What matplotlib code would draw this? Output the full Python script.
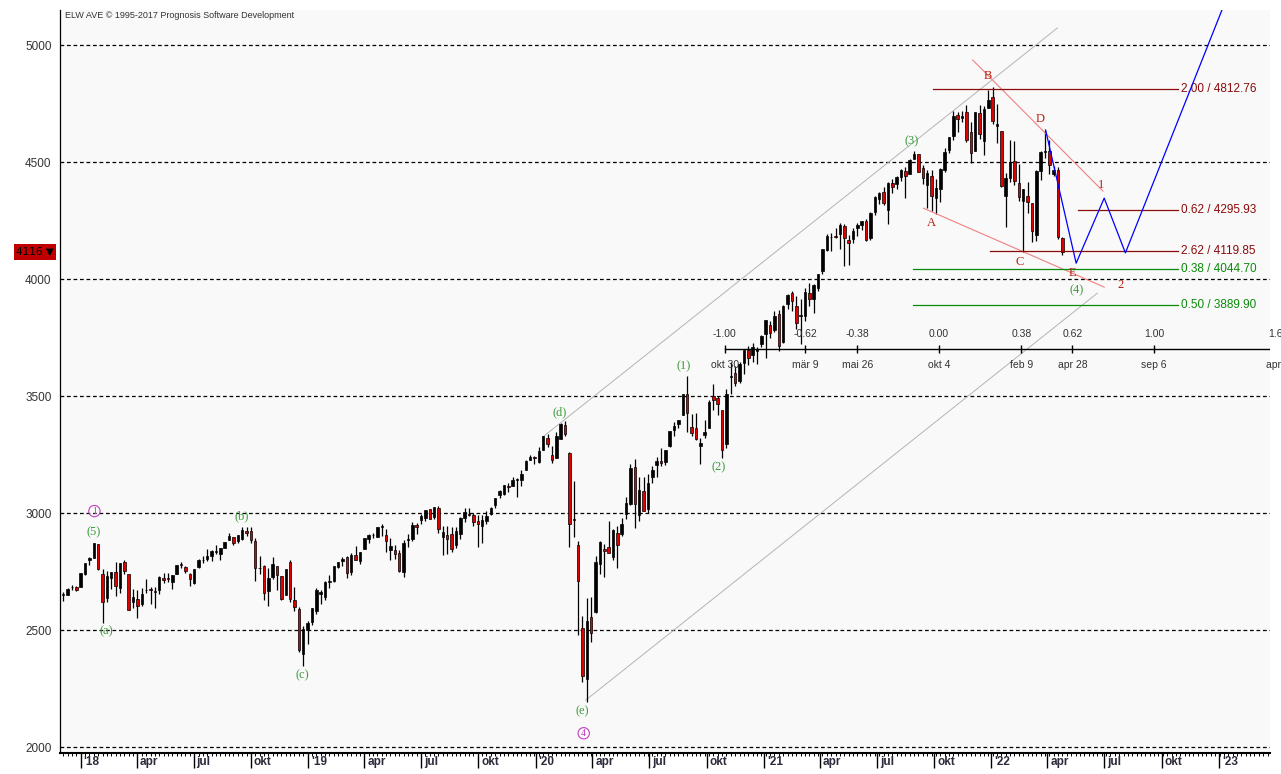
import matplotlib
matplotlib.use("Agg")
import matplotlib.pyplot as plt
import matplotlib.dates as mdates
from matplotlib import transforms
import numpy as np
import pandas as pd

# weekly candles, week of 2017-12-04 .. week of 2022-04-25
opens = [2657, 2652, 2685, 2683,
         2683, 2742, 2799, 2809, 2867, 2741, 2637, 2722, 2750, 2681, 2790, 2741, 2619, 2633, 2611, 2671, 2675, 2668,
         2670, 2722, 2725, 2708, 2741, 2781, 2769, 2742, 2704, 2769, 2798, 2804, 2819, 2840, 2827, 2853, 2885, 2897,
         2880, 2890, 2926, 2926, 2882, 2764, 2773, 2667, 2726, 2773, 2730, 2649, 2790, 2630, 2591, 2400,
         2499, 2535, 2582, 2657, 2644, 2706, 2712, 2769, 2796, 2814, 2747, 2823, 2796, 2849, 2889, 2908, 2899, 2941,
         2909, 2841, 2841, 2830, 2751, 2886, 2889, 2951, 2972, 2980, 3017, 2982, 3024, 2898, 2907, 2913, 2866, 2910,
         2980, 2997, 2993, 2968, 2944, 2965, 2996, 3033, 3079, 3081, 3118, 3118, 3144, 3141, 3184, 3227, 3240,
         3218, 3271, 3321, 3248, 3235, 3318, 3378, 3257, 2975, 2864, 2509, 2290, 2558, 2578, 2782, 2846, 2855, 2815,
         2915, 2913, 2995, 3038, 3199, 2994, 3094, 3018, 3155, 3206, 3224, 3219, 3289, 3356, 3380, 3419, 3509, 3369,
         3363, 3285, 3334, 3366, 3500, 3493, 3441, 3296, 3583, 3601, 3566, 3642, 3699, 3675, 3694, 3723,
         3764, 3803, 3781, 3851, 3731, 3892, 3939, 3885, 3842, 3844, 3942, 3916, 3964, 4034, 4124, 4179, 4185, 4191,
         4228, 4169, 4170, 4217, 4230, 4248, 4174, 4285, 4344, 4372, 4296, 4410, 4407, 4437, 4462, 4450, 4514, 4535,
         4474, 4403, 4442, 4348, 4385, 4464, 4553, 4610, 4701, 4689, 4712, 4629, 4548, 4710, 4588, 4733,
         4779, 4656, 4632, 4356, 4432, 4505, 4412, 4332, 4354, 4327, 4188, 4462, 4541, 4547, 4450, 4466, 4174]
highs = [2665, 2680, 2695, 2687,
         2743, 2787, 2815, 2873, 2870, 2763, 2755, 2748, 2790, 2786, 2802, 2742, 2675, 2672, 2680, 2718, 2683, 2683,
         2732, 2743, 2743, 2736, 2779, 2790, 2775, 2746, 2763, 2804, 2816, 2848, 2841, 2863, 2853, 2877, 2916, 2900,
         2908, 2941, 2940, 2939, 2894, 2817, 2779, 2767, 2815, 2775, 2730, 2760, 2800, 2685, 2601, 2520,
         2539, 2597, 2681, 2672, 2709, 2738, 2775, 2793, 2814, 2816, 2830, 2861, 2836, 2894, 2910, 2916, 2940, 2954,
         2931, 2892, 2864, 2841, 2884, 2910, 2964, 2960, 2996, 3014, 3018, 3028, 3029, 2944, 2944, 2940, 2940, 2985,
         3021, 3022, 3002, 2993, 2993, 3008, 3027, 3066, 3098, 3121, 3127, 3154, 3150, 3183, 3226, 3248, 3246,
         3282, 3329, 3337, 3285, 3347, 3385, 3393, 3260, 3137, 2882, 2562, 2637, 2641, 2819, 2880, 2868, 2965, 2934,
         2945, 2981, 3068, 3211, 3233, 3155, 3155, 3166, 3200, 3238, 3280, 3272, 3352, 3388, 3399, 3509, 3588, 3425,
         3428, 3320, 3397, 3482, 3550, 3502, 3441, 3529, 3646, 3628, 3645, 3699, 3713, 3726, 3711, 3760,
         3827, 3823, 3862, 3870, 3890, 3938, 3950, 3929, 3915, 3960, 3983, 3978, 4021, 4129, 4191, 4195, 4218, 4238,
         4236, 4188, 4219, 4238, 4250, 4258, 4286, 4356, 4372, 4393, 4415, 4429, 4441, 4469, 4480, 4513, 4546, 4536,
         4487, 4466, 4466, 4429, 4475, 4559, 4608, 4718, 4714, 4718, 4744, 4672, 4713, 4743, 4740, 4808,
         4819, 4749, 4632, 4453, 4595, 4590, 4490, 4385, 4416, 4327, 4465, 4546, 4637, 4594, 4483, 4480, 4180]
lows = [2624, 2651, 2673, 2667,
        2683, 2737, 2778, 2808, 2759, 2533, 2622, 2675, 2647, 2659, 2742, 2585, 2593, 2553, 2605, 2660, 2612, 2594,
        2656, 2701, 2707, 2676, 2741, 2764, 2743, 2691, 2698, 2768, 2789, 2795, 2795, 2826, 2802, 2852, 2884, 2864,
        2874, 2886, 2903, 2874, 2710, 2741, 2628, 2603, 2719, 2671, 2631, 2649, 2621, 2583, 2408, 2347,
        2443, 2524, 2571, 2612, 2631, 2681, 2705, 2764, 2775, 2722, 2735, 2800, 2785, 2848, 2873, 2893, 2898, 2901,
        2835, 2800, 2805, 2750, 2729, 2855, 2883, 2913, 2953, 2966, 2975, 2976, 2914, 2822, 2825, 2834, 2853, 2891,
        2964, 2988, 2946, 2856, 2873, 2952, 2991, 3023, 3066, 3078, 3091, 3116, 3070, 3117, 3184, 3226, 3212,
        3214, 3268, 3281, 3214, 3234, 3316, 3328, 2855, 2900, 2478, 2280, 2192, 2448, 2574, 2739, 2727, 2831, 2798,
        2767, 2902, 2974, 3034, 2936, 2966, 3008, 3000, 3127, 3154, 3200, 3205, 3284, 3331, 3364, 3419, 3349, 3330,
        3314, 3209, 3323, 3365, 3441, 3419, 3234, 3280, 3511, 3543, 3555, 3594, 3633, 3648, 3636, 3710,
        3663, 3749, 3775, 3694, 3725, 3874, 3865, 3789, 3723, 3819, 3886, 3854, 3950, 4020, 4118, 4118, 4177, 4128,
        4057, 4061, 4155, 4183, 4209, 4164, 4166, 4275, 4321, 4318, 4234, 4368, 4385, 4420, 4347, 4448, 4513, 4456,
        4406, 4305, 4289, 4279, 4330, 4459, 4538, 4595, 4630, 4672, 4585, 4495, 4548, 4599, 4531, 4733,
        4662, 4582, 4395, 4223, 4415, 4401, 4335, 4115, 4284, 4157, 4162, 4424, 4517, 4450, 4440, 4172, 4105]
closes = [2652, 2676, 2683, 2674,
          2743, 2786, 2810, 2873, 2762, 2620, 2732, 2747, 2691, 2786, 2752, 2588, 2641, 2604, 2656, 2670, 2670, 2663,
          2728, 2713, 2721, 2735, 2779, 2780, 2755, 2718, 2760, 2801, 2802, 2819, 2840, 2833, 2850, 2875, 2902, 2871,
          2905, 2930, 2914, 2886, 2767, 2768, 2659, 2723, 2781, 2736, 2633, 2760, 2633, 2600, 2417, 2507,
          2532, 2596, 2671, 2665, 2707, 2708, 2776, 2793, 2804, 2743, 2822, 2801, 2834, 2893, 2907, 2905, 2940, 2946,
          2881, 2860, 2826, 2752, 2873, 2887, 2950, 2942, 2990, 3014, 2977, 3026, 2932, 2919, 2889, 2847, 2926, 2979,
          3007, 2992, 2962, 2952, 2970, 2986, 3023, 3067, 3093, 3120, 3110, 3141, 3146, 3169, 3221, 3240, 3235,
          3265, 3330, 3295, 3226, 3328, 3380, 3338, 2954, 2972, 2711, 2305, 2541, 2489, 2790, 2875, 2837, 2831, 2930,
          2864, 2955, 3044, 3194, 3041, 3098, 3009, 3130, 3185, 3225, 3216, 3271, 3351, 3373, 3397, 3508, 3427, 3341,
          3319, 3298, 3348, 3477, 3484, 3465, 3270, 3510, 3585, 3558, 3638, 3699, 3663, 3709, 3703, 3756,
          3825, 3768, 3841, 3714, 3887, 3934, 3907, 3811, 3842, 3943, 3913, 3975, 4020, 4129, 4185, 4180, 4181, 4233,
          4174, 4156, 4204, 4230, 4247, 4166, 4281, 4352, 4370, 4327, 4412, 4395, 4437, 4468, 4442, 4509, 4535, 4459,
          4433, 4455, 4357, 4391, 4471, 4545, 4605, 4697, 4683, 4698, 4595, 4538, 4712, 4621, 4726, 4766,
          4677, 4663, 4398, 4432, 4501, 4419, 4349, 4385, 4329, 4204, 4463, 4543, 4546, 4488, 4466, 4181, 4116]

# wave labels
wave_text = ["(5)", "(a)", "(b)", "(c)", "(d)", "(e)", "(1)", "(2)", "(3)", "(4)"]
wave_dates = ["2018-01-22", "2018-02-11", "2018-09-17", "2018-12-22", "2020-02-09",
              "2020-03-16", "2020-08-26", "2020-10-21", "2021-08-26", "2022-05-17"]
wave_prices = [2919, 2496, 2987, 2308, 3432, 2154, 3628, 3197, 4590, 3953]
circle_text = ["1", "4"]
circle_dates = ["2018-01-23", "2020-03-18"]
circle_prices = [3009, 2060]
abc_text = ["A", "B", "C", "D", "E", "1", "2"]
abc_dates = ["2021-09-27", "2021-12-27", "2022-02-16", "2022-03-20", "2022-05-11", "2022-06-26", "2022-07-27"]
abc_prices = [4239, 4868, 4073, 4684, 4026, 4402, 3974]

# fibonacci price levels
fib_ratio = ["2.00", "0.62", "2.62", "0.38", "0.50"]
fib_value = [4812.76, 4295.93, 4119.85, 4044.70, 3889.90]
fib_start = ["2021-09-30", "2022-05-20", "2021-12-30", "2021-08-29", "2021-08-29"]
fib_end = "2022-10-28"
fib_color = ["#8b0a0a", "#8b0a0a", "#8b0a0a", "#0a8a0a", "#0a8a0a"]

# projection path
proj_dates = ["2022-03-29", "2022-05-17", "2022-07-01", "2022-08-04", "2023-01-06"]
proj_prices = [4637, 4068, 4346, 4112, 5150]

# trend lines
gray_lines = [(("2020-01-12", 3325), ("2022-04-17", 5073)),
              (("2020-03-21", 2201), ("2022-06-20", 3940))]
red_lines = [(("2021-12-02", 4936), ("2022-06-29", 4376)),
             (("2021-09-14", 4303), ("2022-07-01", 3966))]

# fibonacci time axis
ft_ratio = ["-1.00", "-0.62", "-0.38", "0.00", "0.38", "0.62", "1.00", "1.62"]
ft_label = ["okt 30", "mär 9", "mai 26", "okt 4", "feb 9", "apr 28", "sep 6", "apr 6"]
ft_dates = ["2020-10-30", "2021-03-08", "2021-05-31", "2021-10-09", "2022-02-18",
            "2022-05-11", "2022-09-19", "2023-04-06"]
ft_level = 3701

quarter_labels = ["'18", "apr", "jul", "okt", "'19", "apr", "jul", "okt", "'20", "apr", "jul", "okt",
                  "'21", "apr", "jul", "okt", "'22", "apr", "jul", "okt", "'23"]
last_price = "4116"

n = min(len(opens), len(highs), len(lows), len(closes))
dates = pd.date_range("2017-12-04", periods=n, freq="7D")
o = np.array(opens[:n], float)
h = np.array(highs[:n], float)
l = np.array(lows[:n], float)
c = np.array(closes[:n], float)

sans = ["Liberation Sans", "DejaVu Sans"]
serif = ["Liberation Serif", "DejaVu Serif"]

fig = plt.figure(figsize=(12.81, 7.74), dpi=100)
fig.patch.set_facecolor("white")
ax = fig.add_axes([60 / 1281, 20.7 / 774, 1210 / 1281, 743.3 / 774])
ax.set_facecolor("#f9f9f9")

ax.set_xlim(pd.Timestamp("2017-11-28 19:00"), pd.Timestamp("2023-03-24"))
ax.set_ylim(1974.4, 5149.6)

for side in ["top", "right"]:
    ax.spines[side].set_visible(False)
ax.spines["left"].set_linewidth(0.9)
ax.spines["bottom"].set_linewidth(1.5)

ax.set_yticks([2000, 2500, 3000, 3500, 4000, 4500, 5000])
ax.set_yticklabels(["2000", "2500", "3000", "3500", "4000", "4500", "5000"],
                   fontsize=8.5, color="#333333", family=sans)
ax.tick_params(axis="y", length=0, pad=6)
ax.grid(axis="y", color="black", linestyle=(0, (3, 2.2)), linewidth=0.9)
ax.set_axisbelow(True)

# candles
ax.vlines(dates, l, h, color="black", linewidth=0.9, zorder=3)
up = c >= o
body_lo = np.minimum(o, c)
body_h = np.maximum(np.abs(c - o), 3)
ax.bar(dates[up], body_h[up], bottom=body_lo[up], width=4.0, color="black",
       edgecolor="black", linewidth=0.5, zorder=4)
ax.bar(dates[~up], body_h[~up], bottom=body_lo[~up], width=4.0, color="#e00000",
       edgecolor="black", linewidth=0.5, zorder=4)

# x axis
qdates = pd.date_range("2018-01-01", "2023-01-01", freq="QS")
ax.set_xticks(qdates)
ax.set_xticklabels([""] * len(qdates))
ax.xaxis.set_minor_locator(mdates.WeekdayLocator(byweekday=mdates.MO))
ax.tick_params(axis="x", which="major", length=11, width=1, direction="out", color="black")
ax.tick_params(axis="x", which="minor", length=2.2, width=0.7, direction="out", color="black")
xlab_tr = transforms.offset_copy(ax.get_xaxis_transform(), fig=fig, x=3, y=-3, units="dots")
for d, lab in zip(qdates, quarter_labels):
    ax.text(d, 0, lab, transform=xlab_tr, ha="left", va="top", fontsize=8.5,
            fontweight="bold", color="#2b2b3b", family=["Liberation Sans Narrow"] + sans,
            clip_on=False)

# trend lines
for (d0, p0), (d1, p1) in gray_lines:
    ax.plot([pd.Timestamp(d0), pd.Timestamp(d1)], [p0, p1], color="#b4b4b4", lw=0.7, zorder=2)
for (d0, p0), (d1, p1) in red_lines:
    ax.plot([pd.Timestamp(d0), pd.Timestamp(d1)], [p0, p1], color="#f08080", lw=0.8, zorder=5)

# fibonacci price levels
for r, v, s, col in zip(fib_ratio, fib_value, fib_start, fib_color):
    ax.plot([pd.Timestamp(s), pd.Timestamp(fib_end)], [v, v], color=col, lw=0.9, zorder=5)
    ax.annotate("%s / %.2f" % (r, v), (pd.Timestamp(fib_end), v), xytext=(3, 0),
                textcoords="offset pixels", ha="left", va="center", fontsize=8.5,
                color=col, family=sans, zorder=6)

# projection
ax.plot(pd.to_datetime(proj_dates), proj_prices, color="#0000ff", lw=0.9, zorder=6)

# fibonacci time axis (the last tick runs off the right edge, as in the original)
ft_d = pd.to_datetime(ft_dates)
ax.plot([ft_d[0], pd.Timestamp("2023-06-01")], [ft_level, ft_level], color="black", lw=1.0, zorder=5)
ax.vlines(ft_d, ft_level - 17, ft_level + 17, color="black", lw=1.0, zorder=5)
for d, r, lab in zip(ft_d, ft_ratio, ft_label):
    ax.annotate(r, (d, ft_level), xytext=(0, 15), textcoords="offset pixels", ha="center",
                va="center", fontsize=7.5, color="#333333", family=sans, annotation_clip=False)
    ax.annotate(lab, (d, ft_level), xytext=(0, -16), textcoords="offset pixels", ha="center",
                va="center", fontsize=7.5, color="#333333", family=sans, annotation_clip=False)

# wave labels
for t, d, p in zip(wave_text, wave_dates, wave_prices):
    ax.text(pd.Timestamp(d), p, t, ha="center", va="center", fontsize=9,
            color="#3c9a3c", family=serif, zorder=7)
for t, d, p in zip(circle_text, circle_dates, circle_prices):
    ax.text(pd.Timestamp(d), p, t, ha="center", va="center", fontsize=7,
            color="#c040c0", family=serif, zorder=7,
            bbox=dict(boxstyle="circle,pad=0.12", fc="none", ec="#c040c0", lw=0.8))
for t, d, p in zip(abc_text, abc_dates, abc_prices):
    ax.text(pd.Timestamp(d), p, t, ha="center", va="center", fontsize=9,
            color="#b82010", family=serif, zorder=7)

# header and last price tag
fig.text(65 / 1281, 1 - 15 / 774, "ELW AVE \u00a9 1995-2017 Prognosis Software Development",
         fontsize=6.5, color="#333333", ha="left", va="center", family=sans)
fig.text(35 / 1281, 1 - 252 / 774, last_price + " \u25bc", fontsize=7.5, color="black",
         ha="center", va="center", family=["DejaVu Sans"],
         bbox=dict(boxstyle="square,pad=0.25", fc="#c00000", ec="none"))

fig.savefig("out.png", dpi=100)
